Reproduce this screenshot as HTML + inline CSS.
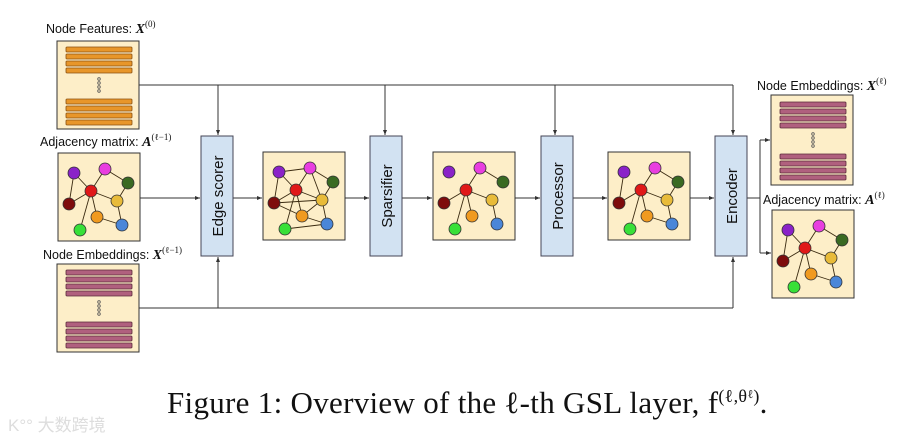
<!DOCTYPE html>
<html><head><meta charset="utf-8"><style>
body{margin:0;background:#fff;width:918px;height:440px;overflow:hidden}
svg{display:block}
.lb{font-family:"Liberation Sans",sans-serif;font-size:12.5px;fill:#111}
.m{font-family:"Liberation Serif",serif;font-weight:bold;font-style:italic;font-size:14px}
.s{font-family:"Liberation Serif",serif;font-size:9px}
.bt{font-family:"Liberation Sans",sans-serif;font-size:15px;fill:#111}
</style></head><body>
<svg width="918" height="440" viewBox="0 0 918 440" xmlns="http://www.w3.org/2000/svg">
<defs>
<marker id="a" markerWidth="6" markerHeight="6" refX="5" refY="3" orient="auto"><path d="M0,1 L5,3 L0,5z" fill="#333"/></marker>
<g id="nodes" stroke="#333" stroke-width="0.8">
<circle cx="16" cy="20" r="6" fill="#8a22c8"/>
<circle cx="47" cy="16" r="6" fill="#e83ee0"/>
<circle cx="70" cy="30" r="6" fill="#3a6a22"/>
<circle cx="33" cy="38" r="6" fill="#e01818"/>
<circle cx="11" cy="51" r="6" fill="#7e0c0c"/>
<circle cx="59" cy="48" r="6" fill="#e8bb3a"/>
<circle cx="39" cy="64" r="6" fill="#f09a20"/>
<circle cx="64" cy="72" r="6" fill="#4a86d8"/>
<circle cx="22" cy="77" r="6" fill="#38e038"/>
</g>
<g id="feat" fill="#e8962a" stroke="#8a5010" stroke-width="0.8">
<rect x="9" y="6" width="66" height="5" rx="1"/><rect x="9" y="13" width="66" height="5" rx="1"/><rect x="9" y="20" width="66" height="5" rx="1"/><rect x="9" y="27" width="66" height="5" rx="1"/>
<rect x="9" y="58" width="66" height="5" rx="1"/><rect x="9" y="65" width="66" height="5" rx="1"/><rect x="9" y="72" width="66" height="5" rx="1"/><rect x="9" y="79" width="66" height="5" rx="1"/>
<g fill="none" stroke="#555"><circle cx="42" cy="38" r="1.3"/><circle cx="42" cy="42" r="1.3"/><circle cx="42" cy="46" r="1.3"/><circle cx="42" cy="50" r="1.3"/></g>
</g>
<g id="emb" fill="#b0607e" stroke="#5a2a3a" stroke-width="0.8">
<rect x="9" y="6" width="66" height="5" rx="1"/><rect x="9" y="13" width="66" height="5" rx="1"/><rect x="9" y="20" width="66" height="5" rx="1"/><rect x="9" y="27" width="66" height="5" rx="1"/>
<rect x="9" y="58" width="66" height="5" rx="1"/><rect x="9" y="65" width="66" height="5" rx="1"/><rect x="9" y="72" width="66" height="5" rx="1"/><rect x="9" y="79" width="66" height="5" rx="1"/>
<g fill="none" stroke="#555"><circle cx="42" cy="38" r="1.3"/><circle cx="42" cy="42" r="1.3"/><circle cx="42" cy="46" r="1.3"/><circle cx="42" cy="50" r="1.3"/></g>
</g>
<path id="base" d="M16,20L11,51M16,20L33,38M47,16L33,38M47,16L70,30M70,30L59,48M33,38L11,51M33,38L59,48M33,38L39,64M33,38L22,77M59,48L64,72M39,64L64,72" stroke="#3a2a10" stroke-width="0.9" fill="none"/>
</defs>

<g stroke="#333" stroke-width="1" fill="none">
<path d="M139,85H733"/>
<path d="M218,85V135" marker-end="url(#a)"/>
<path d="M385,85V135" marker-end="url(#a)"/>
<path d="M555,85V135" marker-end="url(#a)"/>
<path d="M733,85V135" marker-end="url(#a)"/>
<path d="M139,308H733"/>
<path d="M218,308V257" marker-end="url(#a)"/>
<path d="M733,308V257" marker-end="url(#a)"/>
<path d="M140,198H200" marker-end="url(#a)"/>
<path d="M233,198H262" marker-end="url(#a)"/>
<path d="M345,198H369" marker-end="url(#a)"/>
<path d="M402,198H432" marker-end="url(#a)"/>
<path d="M515,198H540" marker-end="url(#a)"/>
<path d="M573,198H607" marker-end="url(#a)"/>
<path d="M690,198H714" marker-end="url(#a)"/>
<path d="M747,198H760M760,140V253"/>
<path d="M760,140H770" marker-end="url(#a)"/>
<path d="M760,253H771" marker-end="url(#a)"/>
</g>

<text x="46" y="33" class="lb">Node Features: <tspan class="m">X</tspan><tspan class="s" dy="-6">(0)</tspan></text>
<rect x="57" y="41" width="82" height="88" fill="#fdeec8" stroke="#333"/>
<use href="#feat" x="57" y="41"/>
<text x="40" y="146" class="lb">Adjacency matrix: <tspan class="m">A</tspan><tspan class="s" dy="-6">(ℓ−1)</tspan></text>
<rect x="58" y="153" width="82" height="88" fill="#fdeec8" stroke="#333"/>
<use href="#base" x="58" y="153"/><use href="#nodes" x="58" y="153"/>
<text x="43" y="259" class="lb">Node Embeddings: <tspan class="m">X</tspan><tspan class="s" dy="-6">(ℓ−1)</tspan></text>
<rect x="57" y="264" width="82" height="88" fill="#fdeec8" stroke="#333"/>
<use href="#emb" x="57" y="264"/>

<g fill="#d2e2f2" stroke="#445">
<rect x="201" y="136" width="32" height="120"/>
<rect x="370" y="136" width="32" height="120"/>
<rect x="541" y="136" width="32" height="120"/>
<rect x="715" y="136" width="32" height="120"/>
</g>
<text class="bt" transform="translate(223,196) rotate(-90)" text-anchor="middle">Edge scorer</text>
<text class="bt" transform="translate(392,196) rotate(-90)" text-anchor="middle">Sparsifier</text>
<text class="bt" transform="translate(563,196) rotate(-90)" text-anchor="middle">Processor</text>
<text class="bt" transform="translate(737,196) rotate(-90)" text-anchor="middle">Encoder</text>

<rect x="263" y="152" width="82" height="88" fill="#fdeec8" stroke="#333"/>
<g transform="translate(263,152)">
<use href="#base"/>
<path d="M16,20L47,16M47,16L59,48M11,51L39,64M22,77L64,72M59,48L39,64M11,51L59,48" stroke="#3a2a10" stroke-width="0.9" fill="none"/>
<use href="#nodes"/></g>
<rect x="433" y="152" width="82" height="88" fill="#fdeec8" stroke="#333"/>
<g transform="translate(433,152)">
<path d="M47,16L33,38M47,16L70,30M33,38L11,51M33,38L59,48M33,38L39,64M33,38L22,77M59,48L64,72" stroke="#3a2a10" stroke-width="0.9" fill="none"/>
<use href="#nodes"/></g>
<rect x="608" y="152" width="82" height="88" fill="#fdeec8" stroke="#333"/>
<g transform="translate(608,152)">
<path d="M16,20L11,51M47,16L33,38M47,16L70,30M70,30L59,48M33,38L11,51M33,38L59,48M33,38L39,64M33,38L22,77M59,48L64,72M39,64L64,72" stroke="#3a2a10" stroke-width="0.9" fill="none"/>
<use href="#nodes"/></g>

<text x="757" y="90" class="lb">Node Embeddings: <tspan class="m">X</tspan><tspan class="s" dy="-6">(ℓ)</tspan></text>
<rect x="771" y="95" width="82" height="90" fill="#fdeec8" stroke="#333"/>
<use href="#emb" x="771" y="96"/>
<text x="763" y="204" class="lb">Adjacency matrix: <tspan class="m">A</tspan><tspan class="s" dy="-6">(ℓ)</tspan></text>
<rect x="772" y="210" width="82" height="88" fill="#fdeec8" stroke="#333"/>
<use href="#base" x="772" y="210"/><use href="#nodes" x="772" y="210"/>

<text x="167" y="413" font-family="Liberation Serif,serif" font-size="31" letter-spacing="0.3" fill="#111">Figure 1: Overview of the ℓ-th GSL layer, f<tspan font-size="18" dy="-11">(ℓ,θ</tspan><tspan font-size="12" dy="-4">ℓ</tspan><tspan font-size="18" dy="4">)</tspan><tspan dy="11">.</tspan></text>
<text x="8" y="431" font-family="Liberation Sans,'Noto Sans CJK SC',sans-serif" font-size="17" fill="#ddd">K°° 大数跨境</text>
</svg>
</body></html>
